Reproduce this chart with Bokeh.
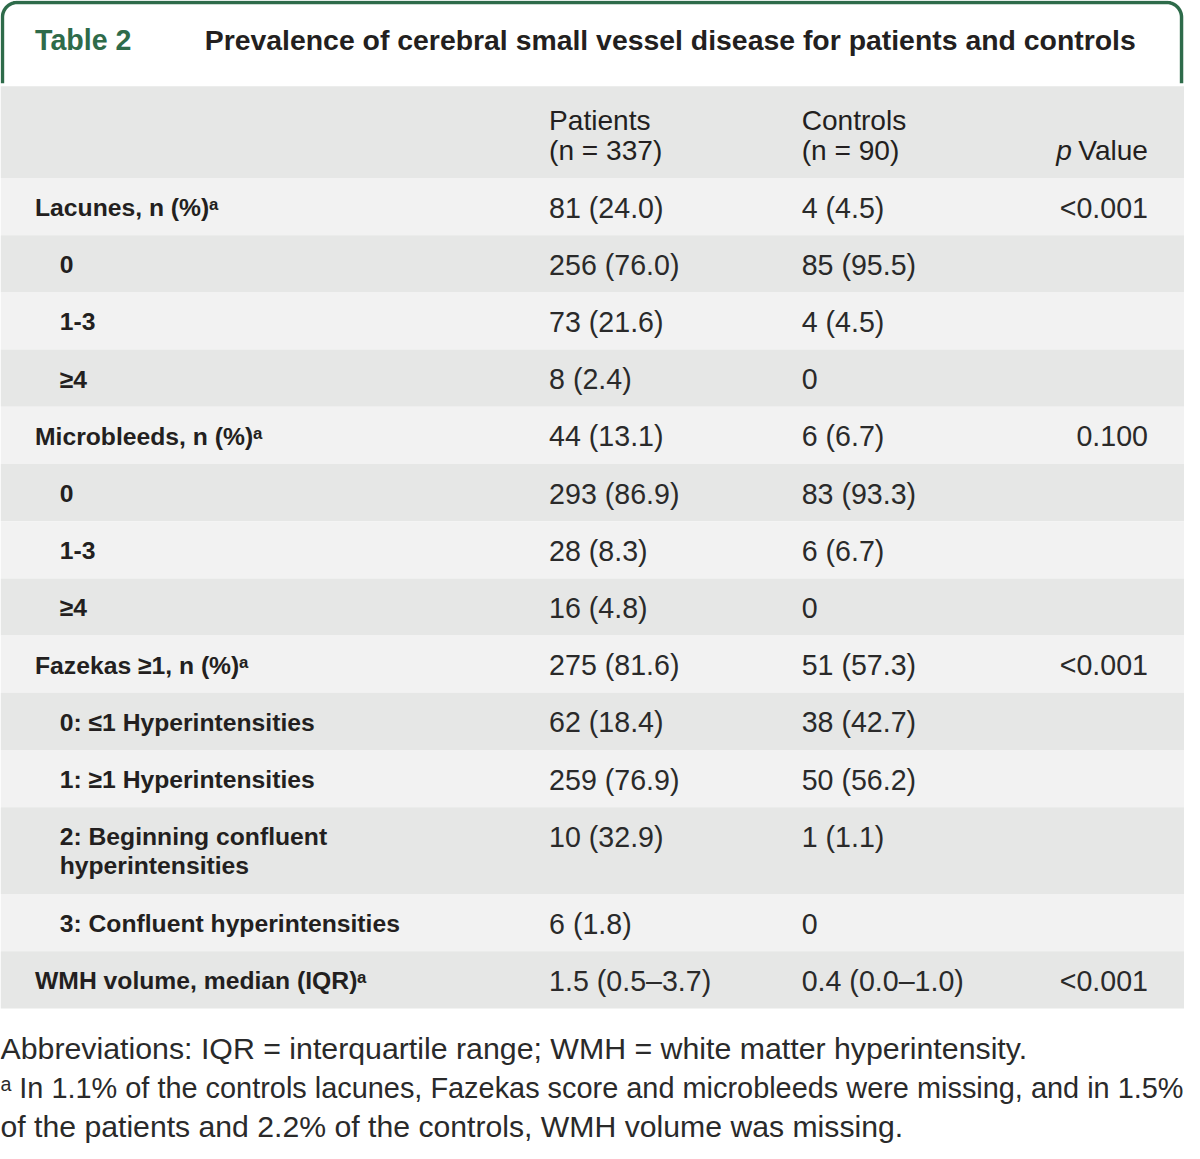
import numpy as np
from bokeh.plotting import figure
from bokeh.models import Range1d
from bokeh.embed import file_html
from bokeh.resources import INLINE
from bokeh.core.properties import value

# ---------------- data ----------------
table_no = "Table 2"
title = "Prevalence of cerebral small vessel disease for patients and controls"
col_head_patients = ["Patients", "(n = 337)"]
col_head_controls = ["Controls", "(n = 90)"]
p_head = ["p", "Value"]

labels = [
    "Lacunes, n (%)ᵃ", "0", "1-3", "≥4",
    "Microbleeds, n (%)ᵃ", "0", "1-3", "≥4",
    "Fazekas ≥1, n (%)ᵃ",
    "0: ≤1 Hyperintensities", "1: ≥1 Hyperintensities",
    "2: Beginning confluent\nhyperintensities",
    "3: Confluent hyperintensities",
    "WMH volume, median (IQR)ᵃ",
]
indent = [0, 1, 1, 1, 0, 1, 1, 1, 0, 1, 1, 1, 1, 0]
patients = ["81 (24.0)", "256 (76.0)", "73 (21.6)", "8 (2.4)",
            "44 (13.1)", "293 (86.9)", "28 (8.3)", "16 (4.8)",
            "275 (81.6)", "62 (18.4)", "259 (76.9)", "10 (32.9)", "6 (1.8)",
            "1.5 (0.5–3.7)"]
controls = ["4 (4.5)", "85 (95.5)", "4 (4.5)", "0",
            "6 (6.7)", "83 (93.3)", "6 (6.7)", "0",
            "51 (57.3)", "38 (42.7)", "50 (56.2)", "1 (1.1)", "0",
            "0.4 (0.0–1.0)"]
pvals = ["<0.001", "", "", "", "0.100", "", "", "", "<0.001", "", "", "", "", "<0.001"]

footnotes = [
    "Abbreviations: IQR = interquartile range; WMH = white matter hyperintensity.",
    "ᵃ In 1.1% of the controls lacunes, Fazekas score and microbleeds were missing, and in 1.5%",
    "of the patients and 2.2% of the controls, WMH volume was missing.",
]

# ---------------- layout ----------------
W, H = 1200, 1159
PW, PH = 1184, 1143
S = PW / W
FONT = "Liberation Sans"
GREEN = "#2e6b4a"
DARK = "#231f20"
TXT = "#2a2a2a"
BG_DARK = "#e6e7e6"
BG_LIGHT = "#f2f2f2"


def fs(px):
    return f"{px * S:.1f}px"


p = figure(width=PW, height=PH, x_range=Range1d(0, W), y_range=Range1d(H, 0),
           output_backend="svg", toolbar_location=None, min_border=0,
           x_axis_location=None, y_axis_location=None,
           background_fill_color="white", border_fill_color="white")
p.grid.visible = False
p.outline_line_color = None

# header panel border (rounded top corners)
r = 15
x0, x1, yt, yb = 2, 1197, 2, 84
th1 = np.linspace(np.pi, 1.5 * np.pi, 24)
th2 = np.linspace(1.5 * np.pi, 2 * np.pi, 24)
bx = np.concatenate([[x0], (x0 + r) + r * np.cos(th1), (x1 - r) + r * np.cos(th2), [x1]])
by = np.concatenate([[yb], (yt + r) + r * np.sin(th1), (yt + r) + r * np.sin(th2), [yb]])
p.line(bx, by, line_color=GREEN, line_width=3.5 * S)

# title
p.text(x=[35], y=[40], text=[table_no], text_font=value(FONT), text_font_style="bold",
       text_font_size=fs(29), text_color=GREEN, text_baseline="middle")
p.text(x=[207], y=[40], text=[title], text_font=value(FONT), text_font_style="bold",
       text_font_size=fs(28.8), text_color=DARK, text_baseline="middle")

# column header band
p.quad(left=[0], right=[W], top=[87], bottom=[180], fill_color=BG_DARK, line_color=None)
p.text(x=[556, 556], y=[122, 152], text=col_head_patients, text_font=value(FONT),
       text_font_size=fs(28.5), text_color=DARK, text_baseline="middle")
p.text(x=[812, 812], y=[122, 152], text=col_head_controls, text_font=value(FONT),
       text_font_size=fs(28.5), text_color=DARK, text_baseline="middle")
p.text(x=[1070], y=[152], text=[p_head[0]], text_font=value(FONT), text_font_style="italic",
       text_font_size=fs(28.5), text_color=DARK, text_baseline="middle")
p.text(x=[1163], y=[152], text=[p_head[1]], text_font=value(FONT),
       text_font_size=fs(28.5), text_color=DARK, text_baseline="middle", text_align="right")

# body rows
nlines = [len(l.split("\n")) for l in labels]
heights = np.array([28 + 30 * n for n in nlines])
tops = 180 + np.concatenate([[0], np.cumsum(heights)[:-1]])
fills = [BG_LIGHT if i % 2 == 0 else BG_DARK for i in range(len(labels))]
p.quad(left=0, right=W, top=tops, bottom=tops + heights, fill_color=fills, line_color=None)

lx, ly, lt = [], [], []
for i, lab in enumerate(labels):
    for k, part in enumerate(lab.split("\n")):
        lx.append(35 + 25 * indent[i])
        ly.append(tops[i] + 30 + 29 * k)
        lt.append(part)
p.text(x=lx, y=ly, text=lt, text_font=value(FONT), text_font_style="bold",
       text_font_size=fs(25), text_color=DARK, text_baseline="middle")

ymid = tops + 30
p.text(x=[556] * len(patients), y=ymid, text=patients, text_font=value(FONT),
       text_font_size=fs(29), text_color=TXT, text_baseline="middle")
p.text(x=[812] * len(controls), y=ymid, text=controls, text_font=value(FONT),
       text_font_size=fs(29), text_color=TXT, text_baseline="middle")
p.text(x=[1163] * len(pvals), y=ymid, text=pvals, text_font=value(FONT),
       text_font_size=fs(29), text_color=TXT, text_baseline="middle", text_align="right")

# footnotes
p.text(x=[0], y=[1063], text=[footnotes[0]], text_font=value(FONT),
       text_font_size=fs(30.7), text_color=TXT, text_baseline="middle")
p.text(x=[0], y=[1103], text=[footnotes[1]], text_font=value(FONT),
       text_font_size=fs(29.3), text_color=TXT, text_baseline="middle")
p.text(x=[0], y=[1142], text=[footnotes[2]], text_font=value(FONT),
       text_font_size=fs(30.6), text_color=TXT, text_baseline="middle")

open("out.html", "w").write(file_html(p, INLINE))
